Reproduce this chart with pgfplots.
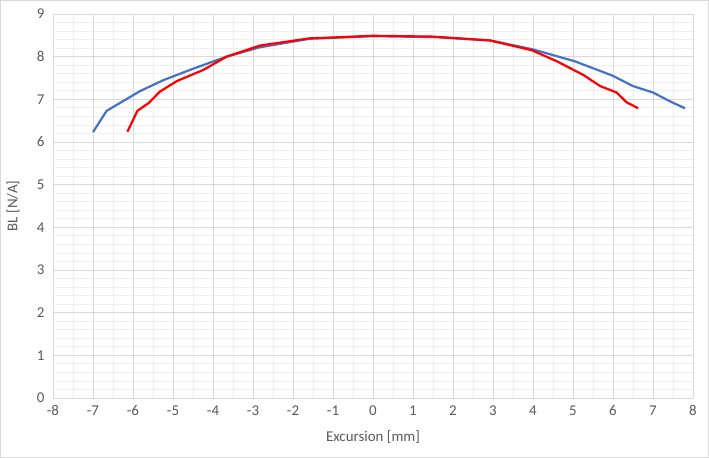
\documentclass[border=0pt]{standalone}
\usepackage{pgfplots}
\pgfplotsset{compat=1.18}
\usepackage{fontspec}
\setmainfont{Carlito}
\definecolor{exblue}{HTML}{4472C4}
\definecolor{txt}{HTML}{595959}
\definecolor{majgrid}{HTML}{D9D9D9}
\definecolor{mingrid}{HTML}{EEEEEE}

\begin{document}
\begin{tikzpicture}[x=1bp,y=1bp]
\draw[majgrid, line width=1bp] (-52.5,-59.5) rectangle (655.5,397.5);
\begin{axis}[
    at={(0,0)}, anchor=south west,
    scale only axis,
    width=640bp, height=384bp,
    xmin=-8, xmax=8,
    ymin=0, ymax=9,
    xtick distance=1,
    ytick distance=1,
    minor x tick num=1,
    minor y tick num=4,
    grid=both,
    major grid style={majgrid, line width=0.8bp},
    minor grid style={mingrid, line width=0.8bp},
    axis line style={majgrid, line width=0.8bp},
    axis x line*=bottom,
    axis y line*=left,
    y axis line style={draw=none},
    tick style={draw=none},
    ticklabel style={font=\fontsize{15}{17}\selectfont, text=txt},
    xticklabel style={yshift=-4bp},
    yticklabel style={xshift=-5bp},
    /pgf/number format/assume math mode=true,
    xlabel={Excursion [mm]},
    ylabel={BL [N/A]},
    label style={font=\fontsize{15}{17}\selectfont, text=txt},
    xlabel style={at={(axis description cs:0.5,0)}, anchor=center, yshift=-39bp},
    ylabel style={at={(axis description cs:0,0.5)}, anchor=center, yshift=40bp},
    clip=false,
]
\addplot[exblue, line width=2.2bp, line join=round] coordinates {
 (-7.0,6.23) (-6.66,6.73) (-5.83,7.19) (-5.24,7.45) (-4.49,7.72) (-3.66,8.0)
 (-2.83,8.22) (-1.58,8.42) (0,8.48) (1.5,8.46) (2.93,8.38) (4.0,8.17)
 (5.05,7.89) (6.0,7.55) (6.5,7.31) (7.0,7.16) (7.43,6.95) (7.8,6.79)
};
\addplot[red, line width=2.2bp, line join=round] coordinates {
 (-6.14,6.24) (-5.89,6.73) (-5.6,6.92) (-5.33,7.18) (-4.9,7.43) (-4.24,7.69)
 (-3.66,8.0) (-2.83,8.26) (-1.58,8.43) (-1,8.45) (0,8.49) (1.5,8.47)
 (2.93,8.38) (3.97,8.15) (4.6,7.89) (5.26,7.57) (5.68,7.31) (6.09,7.16)
 (6.34,6.93) (6.63,6.79)
};
\end{axis}
\end{tikzpicture}
\end{document}
